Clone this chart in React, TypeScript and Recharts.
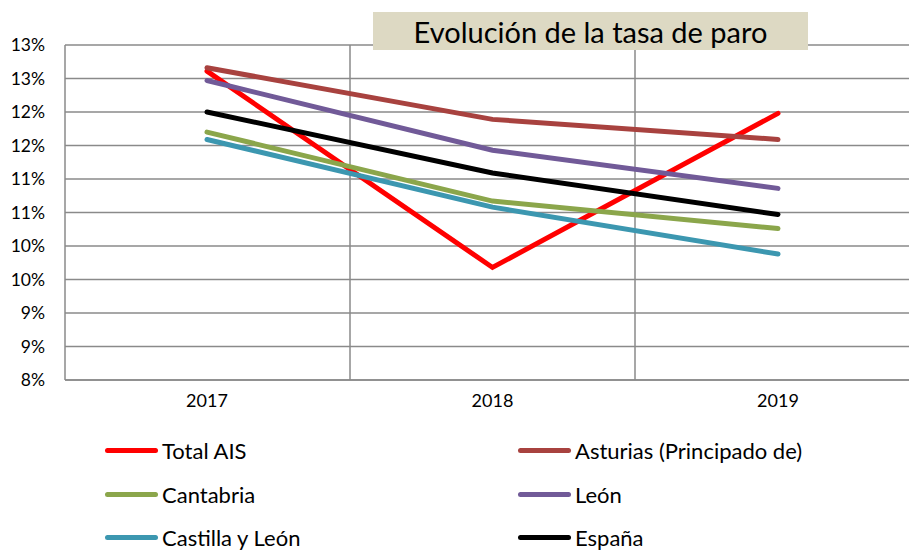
import { LineChart, Line, XAxis, YAxis, CartesianGrid, Legend } from 'recharts';

const years = ['2017', '2018', '2019'];

const totalAis = [12.61, 9.68, 11.98];
const asturias = [12.66, 11.89, 11.59];
const cantabria = [11.7, 10.67, 10.26];
const leon = [12.47, 11.43, 10.86];
const castillaLeon = [11.59, 10.58, 9.88];
const espana = [12.0, 11.09, 10.47];

const yTicks = [8, 8.5, 9, 9.5, 10, 10.5, 11, 11.5, 12, 12.5, 13];

const series = [
  { key: 'Total AIS', values: totalAis, color: '#ff0000' },
  { key: 'Asturias (Principado de)', values: asturias, color: '#a8423f' },
  { key: 'Cantabria', values: cantabria, color: '#8ba64b' },
  { key: 'León', values: leon, color: '#715a98' },
  { key: 'Castilla y León', values: castillaLeon, color: '#3c97b0' },
  { key: 'España', values: espana, color: '#000000' },
];

const data = years.map((year, i) => {
  const row: Record<string, string | number> = { year };
  for (const s of series) row[s.key] = s.values[i];
  return row;
});

const font = 'Lato, "Open Sans", sans-serif';
const gridColor = '#8a8a8a';

// legend keeps the series order (row by row, two columns)
function LegendGrid() {
  return (
    <div
      style={{
        display: 'grid',
        gridTemplateColumns: '413px 400px',
        gridAutoRows: '43.5px',
        paddingLeft: 105,
        paddingTop: 24,
        fontFamily: font,
        fontSize: 22,
        color: '#000',
      }}
    >
      {series.map(s => (
        <div key={s.key} style={{ display: 'flex', alignItems: 'center' }}>
          <span
            style={{
              display: 'inline-block',
              width: 53,
              height: 5,
              borderRadius: 3,
              background: s.color,
              marginRight: 4,
            }}
          />
          <span>{s.key}</span>
        </div>
      ))}
    </div>
  );
}

export default function App() {
  const chartWidth = 930;
  return (
    <div style={{ position: 'absolute', left: 0, top: 0, width: 909, height: 550, overflow: 'hidden', background: '#fff' }}>
      <LineChart width={chartWidth} height={550} data={data} margin={{ top: 45, right: 10, left: 0, bottom: 0 }}>
        <CartesianGrid
          stroke={gridColor}
          strokeWidth={1.5}
          verticalCoordinatesGenerator={({ offset }: any) => [
            offset.left + offset.width / 3,
            offset.left + (2 * offset.width) / 3,
            offset.left + offset.width,
          ]}
        />
        <XAxis
          dataKey="year"
          padding={{ left: 142, right: 142 }}
          height={25}
          tickLine={false}
          axisLine={{ stroke: gridColor, strokeWidth: 1.5 }}
          tick={{ fontFamily: font, fontSize: 18, fill: '#000' }}
          tickMargin={8}
        />
        <YAxis
          width={65}
          domain={[8, 13]}
          ticks={yTicks}
          interval={0}
          tickLine={false}
          axisLine={{ stroke: gridColor, strokeWidth: 1.5 }}
          tickFormatter={(v: number) => `${Math.round(v)}%`}
          tick={{ fontFamily: font, fontSize: 17.5, fill: '#000' }}
          tickMargin={14}
        />
        <Legend verticalAlign="bottom" height={145} content={<LegendGrid />} />
        {series.map(s => (
          <Line
            key={s.key}
            type="linear"
            dataKey={s.key}
            stroke={s.color}
            strokeWidth={5}
            strokeLinecap="round"
            dot={false}
            activeDot={false}
            isAnimationActive={false}
          />
        ))}
      </LineChart>
      <div
        style={{
          position: 'absolute',
          left: 373,
          top: 12,
          width: 435,
          height: 38,
          background: '#ddd9c3',
          fontFamily: font,
          fontSize: 29,
          color: '#000',
          display: 'flex',
          alignItems: 'center',
          justifyContent: 'center',
        }}
      >
        Evolución de la tasa de paro
      </div>
    </div>
  );
}
